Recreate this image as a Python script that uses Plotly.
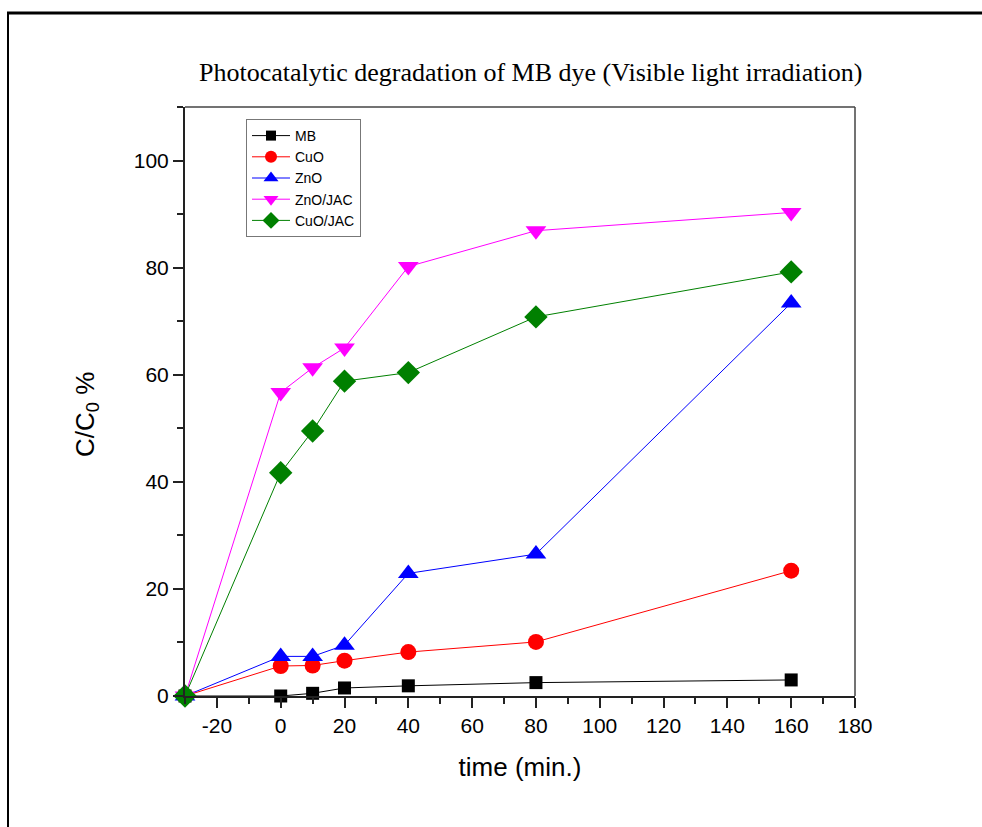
import plotly.graph_objects as go

# Irradiation time (min); -30 is the dark adsorption start
time_min = [-30, 0, 10, 20, 40, 80, 160]

# Degradation (%) for each sample
mb = [0, 0, 0.5, 1.5, 1.9, 2.5, 3.0]
cuo = [0, 5.6, 5.7, 6.6, 8.2, 10.1, 23.4]
zno = [0, 7.4, 7.4, 9.5, 22.9, 26.5, 73.4]
zno_jac = [0, 56.7, 61.3, 65.0, 80.2, 86.9, 90.3]
cuo_jac = [0, 41.7, 49.5, 58.8, 60.4, 70.8, 79.2]

series_names = ["MB", "CuO", "ZnO", "ZnO/JAC", "CuO/JAC"]
x_ticks = [-20, 0, 20, 40, 60, 80, 100, 120, 140, 160, 180]
x_tick_text = ["-20", "0", "20", "40", "60", "80", "100", "120", "140", "160", "180"]
y_ticks = [0, 20, 40, 60, 80, 100]

W, H = 982, 827
ML, MR, MT, MB_ = 185, 127, 107, 131
PW, PH = W - ML - MR, H - MT - MB_

def px_x(p):
    return (p - ML) / PW

def px_y(p):
    return (H - MB_ - p) / PH

styles = [
    dict(color="black", symbol="square", size=13, leg=10),
    dict(color="red", symbol="circle", size=16, leg=12),
    dict(color="blue", symbol="triangle-up", size=18, leg=13),
    dict(color="magenta", symbol="triangle-down", size=18, leg=13),
    dict(color="green", symbol="diamond", size=18, leg=13),
]

fig = go.Figure()
for name, vals, st in zip(series_names, [mb, cuo, zno, zno_jac, cuo_jac], styles):
    fig.add_trace(go.Scatter(
        x=time_min, y=vals, name=name, mode="lines+markers",
        line=dict(color=st["color"], width=1),
        marker=dict(color=st["color"], symbol=st["symbol"], size=st["size"],
                    line=dict(width=0)),
        cliponaxis=False, showlegend=False, legendgroup=name,
    ))
    # legend key with a smaller marker
    fig.add_trace(go.Scatter(
        x=[None], y=[None], name=name, mode="lines+markers",
        line=dict(color=st["color"], width=1),
        marker=dict(color=st["color"], symbol=st["symbol"], size=st["leg"],
                    line=dict(width=0)),
        showlegend=True, legendgroup=name,
    ))

axis_common = dict(
    showgrid=False, zeroline=False, showline=True, linecolor="#222",
    linewidth=2, mirror=False, ticks="outside", ticklen=10, tickwidth=2,
    tickcolor="#222",
    tickfont=dict(family="Liberation Sans, Arial", size=21, color="black"),
    minor=dict(ticks="outside", ticklen=6, tickwidth=2, tickcolor="#222"),
)

fig.update_xaxes(
    range=[-30, 180], tickvals=x_ticks, ticktext=x_tick_text,
    minor_dtick=10, minor_tick0=0,
    title=dict(text="time (min.)", standoff=22,
               font=dict(family="Liberation Sans, Arial", size=26, color="black")),
    **axis_common,
)
fig.update_yaxes(
    range=[0, 110], tickvals=y_ticks, minor_dtick=10, minor_tick0=0,
    **axis_common,
)

shapes = [
    # thin top and right borders of the plot box
    dict(type="line", xref="paper", yref="paper", x0=0, x1=1, y0=1, y1=1,
         line=dict(color="#444", width=1.5)),
    dict(type="line", xref="paper", yref="paper", x0=1, x1=1, y0=0, y1=1,
         line=dict(color="#444", width=1.5)),
    # outer page frame (top and left edges)
    dict(type="line", xref="paper", yref="paper", x0=px_x(7), x1=px_x(W + 5),
         y0=px_y(13), y1=px_y(13), line=dict(color="black", width=3)),
    dict(type="line", xref="paper", yref="paper", x0=px_x(8), x1=px_x(8),
         y0=px_y(12), y1=px_y(H + 5), line=dict(color="black", width=2)),
]

fig.update_layout(
    width=W, height=H,
    margin=dict(l=ML, r=MR, t=MT, b=MB_),
    paper_bgcolor="white", plot_bgcolor="white",
    shapes=shapes,
    showlegend=True,
    legend=dict(
        x=px_x(246), y=px_y(119), xanchor="left", yanchor="top",
        bordercolor="#777", borderwidth=1, bgcolor="white",
        font=dict(family="Liberation Sans, Arial", size=14, color="black"),
        tracegroupgap=0, itemsizing="trace", itemwidth=38,
    ),
    annotations=[
        dict(
            text="Photocatalytic degradation of MB dye (Visible light irradiation)",
            xref="paper", yref="paper", x=px_x(530), y=px_y(73),
            xanchor="center", yanchor="middle", showarrow=False,
            font=dict(family="Liberation Serif, Times New Roman", size=26,
                      color="black"),
        ),
        dict(
            text="C/C<sub>0</sub> %", textangle=-90,
            xref="paper", yref="paper", x=px_x(86), y=px_y(415),
            xanchor="center", yanchor="middle", showarrow=False,
            font=dict(family="Liberation Sans, Arial", size=26, color="black"),
        ),
    ],
)

fig.write_html("out.html")
